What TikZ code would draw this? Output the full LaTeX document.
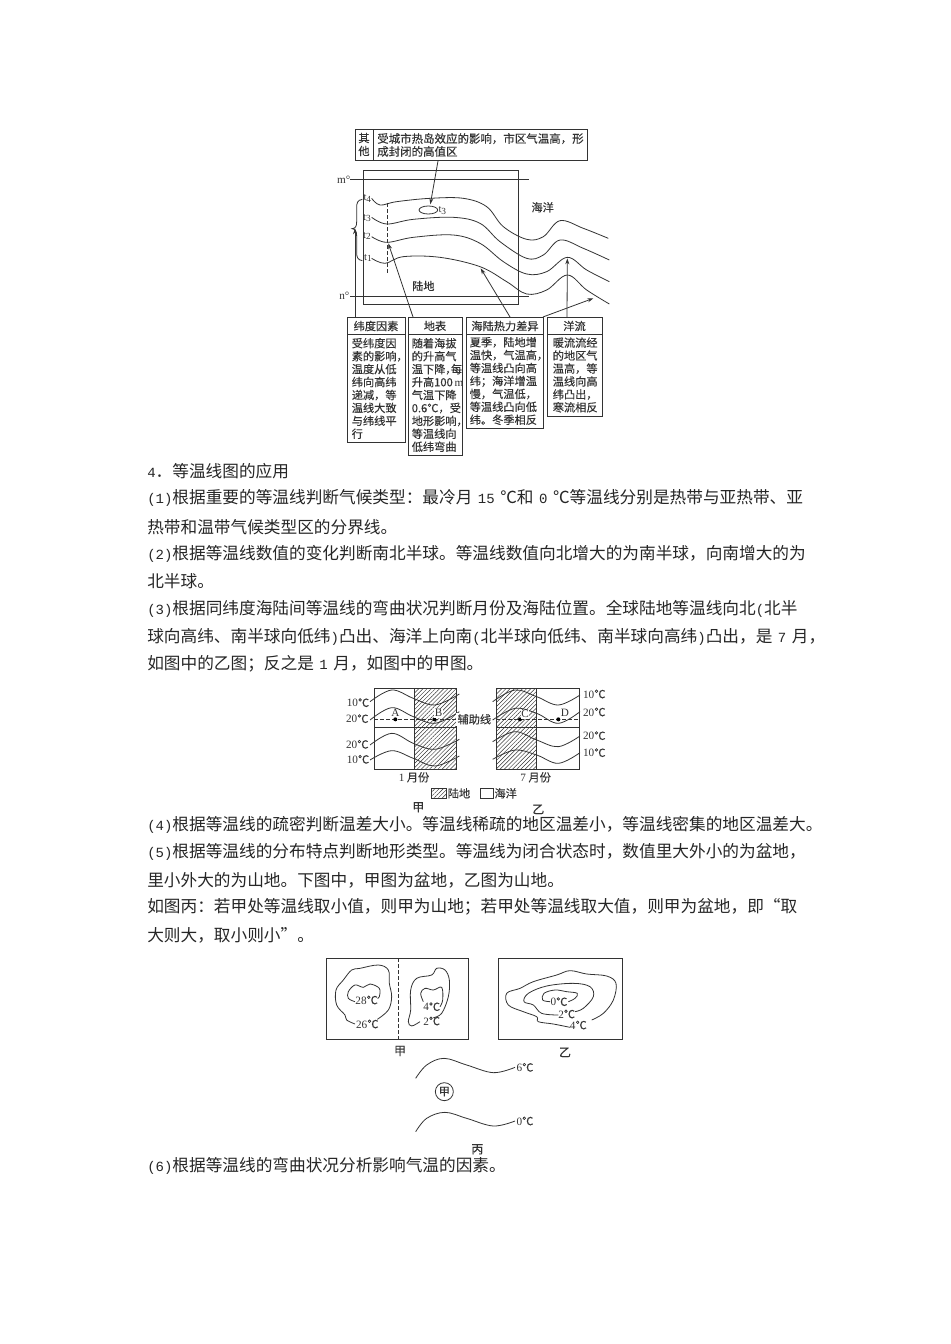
\documentclass[tikz,border=0pt]{standalone}
\usepackage{fontspec}
\setmainfont{Noto Sans CJK SC}
\newfontfamily\latf{Liberation Serif}
\newfontfamily\monof[Scale=0.84]{Liberation Mono}
\newfontfamily\dgf[FakeBold=0.25]{Noto Sans CJK SC}
\newcommand{\lat}[1]{{\latf #1}}
\newcommand{\mon}[1]{{\monof #1}}
\newcommand{\hc}{\makebox[0.5em][l]{，}}
\newcommand{\sq}{\hspace{0.33em}}
\usetikzlibrary{arrows.meta,patterns.meta}
\definecolor{ink}{gray}{0.2}
\tikzset{
  bodytext/.style={anchor=west,inner sep=0pt,font=\fontsize{12.5}{15}\selectfont,text=black!85},
  dg/.style={inner sep=0pt,font=\dgf\fontsize{8.4}{9.7}\selectfont,text=ink},
  dgs/.style={inner sep=0pt,font=\dgf\fontsize{8}{9}\selectfont,text=ink},
  dgl/.style={inner sep=0pt,font=\dgf\fontsize{9}{10}\selectfont,text=ink},
  boxb/.style={draw=ink,line width=0.7pt,inner sep=0pt,anchor=north west},
  txtb/.style={dg,anchor=west,align=left},
  curve/.style={draw=ink,line width=0.6pt,smooth,tension=0.6},
  arr/.style={draw=ink,line width=0.6pt,-{Stealth[length=4.5pt,width=3pt]}},
  frame/.style={draw=ink,line width=0.7pt},
  hatch/.style={pattern={Lines[angle=45,distance=2.2pt,line width=0.35pt]},pattern color=ink},
  zoomA/.style={shift={(330,120)},x=0.25pt,y=-0.25pt},
  zoomC/.style={shift={(330,680)},x=0.25pt,y=-0.25pt},
  zoomD/.style={shift={(320,950)},x=0.25pt,y=-0.25pt},
}
\begin{document}
\begin{tikzpicture}[x=0.75pt,y=-0.75pt]
\useasboundingbox (0,0) rectangle (950,1344);
\fill[white] (0,0) rectangle (950,1344);
% ---------- top diagram ----------
\node[boxb,minimum width=13.5pt,minimum height=23.25pt] (qtbox) at (355,129) {};
\node[dg,align=center] (qt) at (364,144.5) {其\\他};
\node[boxb,minimum width=160.5pt,minimum height=23.25pt] (qtmain) at (373,129) {};
\node[txtb,font=\dgf\fontsize{8.6}{9.7}\selectfont] (qtt) at (377,145) {受城市热岛效应的影响，市区气温高，形\\成封闭的高值区};
\draw[frame] (363,170) rectangle (518,304);
\begin{scope}[zoomA]
\node[dg] (m) at (41,178) {\lat{m°}};
\node[dg] (n) at (43,528) {\lat{n°}};
\coordinate (mL) at (60,178); \coordinate (mR) at (597,178);
\coordinate (nL) at (60,530); \coordinate (nR) at (597,530);
\draw[ink,line width=0.6pt] (mL)--(mR) (nL)--(nR);
\draw[curve] plot coordinates {(125,235)(150,255)(200,245)(300,235)(400,235)(470,260)(520,320)(590,358)(640,350)(690,302)(760,325)(835,355)};
\draw[curve] plot coordinates {(125,292)(170,312)(250,298)(370,292)(450,310)(510,365)(590,415)(640,405)(690,360)(760,385)(838,420)};
\draw[curve] plot coordinates {(125,350)(170,367)(250,352)(370,345)(450,370)(520,425)(590,462)(650,455)(712,412)(770,450)(838,485)};
\draw[curve] plot coordinates {(125,415)(165,430)(220,410)(330,412)(450,440)(530,485)(590,522)(650,510)(712,465)(770,510)(838,552)};
\draw[ink,line width=0.6pt] (295,270) ellipse [x radius=28,y radius=12];
\draw[ink,line width=0.6pt,dashed,dash pattern=on 3pt off 1.5pt] (172,250)--(172,462);
\node[dgs] (t4) at (112,235) {\lat{t\raisebox{-1pt}{\scriptsize 4}}};
\node[dgs] (t3) at (111,295) {\lat{t\raisebox{-1pt}{\scriptsize 3}}};
\node[dgs] (t2) at (111,347) {\lat{t\raisebox{-1pt}{\scriptsize 2}}};
\node[dgs] (t1) at (114,413) {\lat{t\raisebox{-1pt}{\scriptsize 1}}};
\node[dgs] (t3b) at (337,272) {\lat{t\raisebox{-1pt}{\scriptsize 3}}};
\draw[ink,line width=0.6pt] (97,238) .. controls (82,240) and (80,250) .. (80,262) -- (80,305) .. controls (80,320) and (76,325) .. (66,326) .. controls (76,327) and (80,335) .. (80,348) -- (80,400) .. controls (80,412) and (84,420) .. (97,422);
\node[dg] (hy) at (638,262) {海洋};
\node[dg] (ld) at (280,498) {陆地};
\coordinate (aQ) at (301,253);
\coordinate (aB) at (75,325);
\coordinate (aD) at (175,370);
\coordinate (aH1) at (452,445);
\coordinate (aH2) at (790,535);
\coordinate (aY) at (712,415);
\end{scope}
% boxes
\node[boxb,minimum width=43.5pt,minimum height=12.75pt] (h1) at (347,317) {};
\node[dg] (h1t) at (376,326) {纬度因素};
\node[boxb,minimum width=43.5pt,minimum height=81pt] (b1) at (347,334) {};
\node[txtb] (b1t) at (351.5,388.5) {受纬度因\\素的影响\hc\\温度从低\\纬向高纬\\递减，等\\温线大致\\与纬线平\\行};
\node[boxb,minimum width=40.5pt,minimum height=12.75pt] (h2) at (408,317) {};
\node[dg] (h2t) at (435,326) {地表};
\node[boxb,minimum width=40.5pt,minimum height=90.75pt] (b2) at (408,334) {};
\node[txtb] (b2t) at (411.5,395) {随着海拔\\的升高气\\温下降\hc 每\\升高100\,\lat{m}\\气温下降\\0.6℃，受\\地形影响\hc\\等温线向\\低纬弯曲};
\node[boxb,minimum width=57.75pt,minimum height=12.75pt] (h3) at (466,317) {};
\node[dg] (h3t) at (505,326) {海陆热力差异};
\node[boxb,minimum width=57.75pt,minimum height=70.5pt] (b3) at (466,334) {};
\node[txtb] (b3t) at (469.5,381) {夏季，陆地增\\温快，气温高\hc\\等温线凸向高\\纬；海洋增温\\慢，气温低，\\等温线凸向低\\纬。冬季相反};
\node[boxb,minimum width=41.25pt,minimum height=12.75pt] (h4) at (547,317) {};
\node[dg] (h4t) at (574.5,326) {洋流};
\node[boxb,minimum width=41.25pt,minimum height=61.5pt] (b4) at (547,334) {};
\node[txtb] (b4t) at (552.5,375) {暖流流经\\的地区气\\温高，等\\温线向高\\纬凸出，\\寒流相反};
\draw[arr] (qtmain.south west)++(65,0) -- (aQ);
\draw[arr] (h1.north west)++(8,0) -- (aB);
\draw[arr] (h2.north west)++(5,0) -- (aD);
\draw[arr] (h3.north west)++(44,0) -- (aH1);
\draw[arr] (h3.north east)++(-1,0) -- (aH2);
\draw[arr] (h4.north west)++(20,0) -- (aY);
% ---------- body text ----------
\node[bodytext] (l1) at (147,471) {\mon{4}．等温线图的应用};
\node[bodytext] (l2) at (147,498) {\mon{(1)}根据重要的等温线判断气候类型：最冷月\sq{}\mon{15}\sq{}℃和\sq{}\mon{0}\sq{}℃等温线分别是热带与亚热带、亚};
\node[bodytext] (l3) at (147,527) {热带和温带气候类型区的分界线。};
\node[bodytext] (l4) at (147,554) {\mon{(2)}根据等温线数值的变化判断南北半球。等温线数值向北增大的为南半球，向南增大的为};
\node[bodytext] (l5) at (147,581) {北半球。};
\node[bodytext] (l6) at (147,609) {\mon{(3)}根据同纬度海陆间等温线的弯曲状况判断月份及海陆位置。全球陆地等温线向北\mon{(}北半};
\node[bodytext] (l7) at (147,637) {球向高纬、南半球向低纬\mon{)}凸出、海洋上向南\mon{(}北半球向低纬、南半球向高纬\mon{)}凸出，是\sq{}\mon{7}\sq{}月，};
\node[bodytext] (l8) at (147,664) {如图中的乙图；反之是\sq{}\mon{1}\sq{}月，如图中的甲图。};
\node[bodytext] (l9) at (147,825) {\mon{(4)}根据等温线的疏密判断温差大小。等温线稀疏的地区温差小，等温线密集的地区温差大。};
\node[bodytext] (l10) at (147,852) {\mon{(5)}根据等温线的分布特点判断地形类型。等温线为闭合状态时，数值里大外小的为盆地，};
\node[bodytext] (l11) at (147,880) {里小外大的为山地。下图中，甲图为盆地，乙图为山地。};
\node[bodytext] (l12) at (147,907) {如图丙：若甲处等温线取小值，则甲为山地；若甲处等温线取大值，则甲为盆地，即\makebox[1em][r]{“}取};
\node[bodytext] (l13) at (147,935) {大则大，取小则小\makebox[1em][l]{”}。};
\node[bodytext] (l14) at (147,1166) {\mon{(6)}根据等温线的弯曲状况分析影响气温的因素。};
% ---------- middle diagram ----------
\begin{scope}[zoomC]
\fill[hatch] (253,25) rectangle (380,267);
\fill[hatch] (498,25) rectangle (620,267);
\draw[frame] (132,25) rectangle (380,267);
\draw[frame] (498,25) rectangle (748,267);
\draw[frame] (253,25)--(253,267) (620,25)--(620,267);
\draw[frame] (132,143)--(380,143) (498,143)--(748,143);
\foreach \yy/\aa/\bb/\cc/\dd in {65/30/55/75/42,120/83/110/130/95,195/160/190/208/178,240/212/235/258/228}{
  \draw[curve] plot coordinates {(120,\yy)(185,\aa)(250,\bb)(315,\cc)(388,\dd)};
}
\foreach \yy/\aa/\bb/\cc/\dd in {65/30/50/75/45,120/85/100/130/95,185/155/180/200/168,238/210/225/250/218}{
  \draw[curve] plot coordinates {(488,\yy)(555,\aa)(620,\bb)(685,\cc)(750,\dd)};
}
\draw[ink,line width=0.6pt,dashed,dash pattern=on 3pt off 1.5pt] (132,118)--(380,118) (498,118)--(748,118);
\foreach \xx in {196,313,570,685}{ \fill[black] (\xx,118) circle [radius=1.5pt]; }
\node[dg] (A) at (196,97) {\lat{A}};
\node[dg,fill=white,inner sep=0.5pt] (B) at (326,100) {\lat{B}};
\node[dg,fill=white,inner sep=0.5pt] (C) at (585,103) {\lat{C}};
\node[dg] (D) at (705,100) {\lat{D}};
\node[dg,fill=white,inner sep=1pt] (fz) at (433,118) {辅助线};
\node[dg] (c1) at (84,68) {\lat{10}℃};
\node[dg] (c2) at (82,116) {\lat{20}℃};
\node[dg] (c3) at (82,193) {\lat{20}℃};
\node[dg] (c4) at (84,238) {\lat{10}℃};
\node[dg] (c5) at (793,42) {\lat{10}℃};
\node[dg] (c6) at (793,96) {\lat{20}℃};
\node[dg] (c7) at (793,167) {\lat{20}℃};
\node[dg] (c8) at (793,218) {\lat{10}℃};
\node[dg] (mon1) at (252,292) {\lat{1} 月份};
\node[dg] (mon7) at (617,292) {\lat{7} 月份};
\fill[hatch] (303,325) rectangle (350,355);
\draw[frame] (303,325) rectangle (350,355);
\node[dg] (lg1) at (387,340) {陆地};
\draw[frame] (452,325) rectangle (490,355);
\node[dg] (lg2) at (527,340) {海洋};
\node[dgl] (j1) at (265,382) {甲};
\node[dgl] (y1) at (625,388) {乙};
\end{scope}
% ---------- bottom diagram ----------
\begin{scope}[zoomD]
\draw[frame] (18,25) rectangle (445,267);
\draw[frame] (534,25) rectangle (906,267);
\draw[ink,line width=0.6pt,dashed,dash pattern=on 3pt off 1.5pt] (236,25)--(236,267);
\draw[curve] plot coordinates {(105,222)(80,210)(75,195)(50,165)(48,120)(70,90)(95,60)(120,55)(175,45)(205,60)(208,100)(215,140)(205,180)(172,208)};
\draw[curve] plot coordinates {(105,155)(85,145)(85,125)(105,105)(130,112)(150,102)(178,115)(178,140)(172,145)};
\draw[curve] plot coordinates {(300,215)(275,228)(265,215)(272,180)(272,120)(290,85)(335,75)(350,55)(375,60)(388,90)(385,140)(365,190)(340,203)};
\draw[curve] plot coordinates {(310,155)(302,130)(315,115)(340,120)(365,112)(368,150)(360,170)};
\draw[curve] plot coordinates {(750,232)(700,222)(655,215)(650,200)(610,185)(565,165)(560,130)(600,115)(640,95)(710,75)(750,62)(800,72)(860,78)(888,100)(880,150)(850,190)(815,210)};
\draw[curve] plot coordinates {(715,195)(665,190)(640,165)(612,155)(625,130)(680,108)(760,100)(810,110)(820,140)(790,175)(765,185)};
\draw[curve] plot coordinates {(690,155)(668,150)(672,130)(705,120)(740,125)(772,130)(765,145)(745,155)};
\node[dg] (d28) at (140,150) {\lat{28}℃};
\node[dg] (d26) at (142,222) {\lat{26}℃};
\node[dg] (d4) at (335,170) {\lat{4}℃};
\node[dg] (d2) at (335,213) {\lat{2}℃};
\node[dg] (d0b) at (717,155) {\lat{0}℃};
\node[dg] (d2b) at (740,192) {\lat{2}℃};
\node[dg] (d4b) at (775,225) {\lat{4}℃};
\node[dgl] (jb) at (240,303) {甲};
\node[dgl] (yb) at (735,307) {乙};
\draw[curve] plot coordinates {(287,385)(320,345)(372,325)(440,345)(520,368)(585,352)};
\node[dg] (d6) at (615,352) {\lat{6}℃};
\node[draw=ink,line width=0.6pt,circle,minimum size=13.5pt,dg] (jc) at (373,425) {甲};
\draw[curve] plot coordinates {(287,545)(320,505)(375,487)(440,505)(520,528)(585,513)};
\node[dg] (d00) at (615,513) {\lat{0}℃};
\node[dgl] (bing) at (472,598) {丙};
\end{scope}
\end{tikzpicture}
\end{document}
